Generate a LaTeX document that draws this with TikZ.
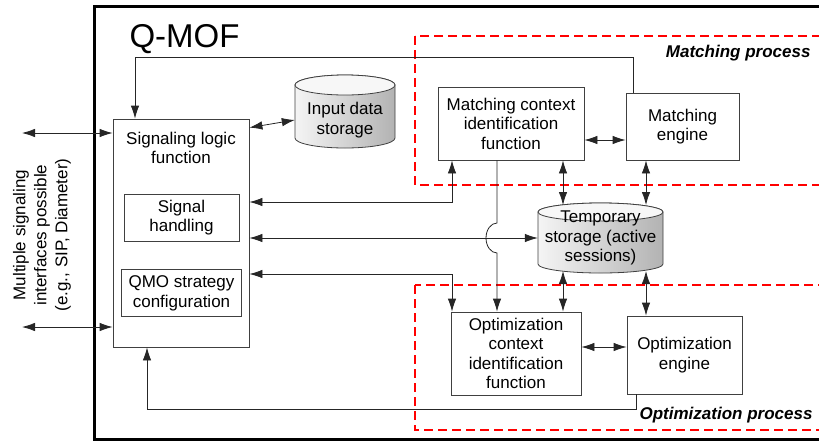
\documentclass[tikz,border=0pt]{standalone}
\usepackage{fontspec}
\setmainfont{Liberation Sans}
\usetikzlibrary{arrows.meta}

\tikzset{
  box/.style={draw=black!75, line width=0.8pt, align=center, inner sep=1pt},
  conn/.style={draw=black!85, line width=0.8pt},
  procarea/.style={draw=red, line width=1.3pt, dash pattern=on 9pt off 5pt},
  proclabel/.style={font=\fontsize{17}{20}\selectfont\bfseries\itshape},
}

% storage drum: x1, x2, y of top centre, y of bottom centre, y radius
\newcommand{\storagecyl}[5]{%
  \shade[left color=gray!8, right color=gray!60, draw=black!75, line width=0.8pt]
    (#1,#3) -- (#1,#4) arc[start angle=180, end angle=0, x radius={(#2-#1)/2}, y radius=#5]
    -- (#2,#3) arc[start angle=360, end angle=180, x radius={(#2-#1)/2}, y radius=#5] -- cycle;
  \filldraw[fill=gray!6, draw=black!75, line width=0.8pt]
    ({(#1+#2)/2},#3) ellipse[x radius={(#2-#1)/2}, y radius=#5];
}

\begin{document}
\begin{tikzpicture}[x=1pt, y=-1pt, >={Latex[length=13pt,width=8.5pt]}, font=\fontsize{17}{19.5}\selectfont]
\useasboundingbox (0,0) rectangle (819,440);
\clip (0,0) rectangle (819,440);

\draw[line width=3pt] (94,6) rectangle (840,439);
\node [anchor=base west, font=\fontsize{33}{36}\selectfont] (qmof) at (126,47) {Q-MOF};

% process areas
\draw[procarea] (415,36) rectangle (840,185);
\draw[procarea] (415,285) rectangle (840,430);
\node [proclabel, anchor=base east] (matchlbl) at (814,57) {Matching process};
\node [proclabel, anchor=base east] (optlbl) at (816,419) {Optimization process};

% signaling side
\node [box, minimum width=136, minimum height=228] (sigfn) at (181,233) {};
\node [anchor=north, align=center, inner sep=0pt] (sigtxt) at ([yshift=-13]sigfn.north) {Signaling logic\\function};
\node [box, minimum width=115, minimum height=47] (sighand) at (181.5,217.5) {Signal\\handling};
\node [box, minimum width=120, minimum height=47, below=28pt, at=(sighand.south)] (qmocfg) {QMO strategy\\configuration};
\node [rotate=90, align=center, font=\fontsize{17}{21}\selectfont] (iface) at (42,235) {Multiple signaling\\interfaces possible\\(e.g., SIP, Diameter)};

% storages
\storagecyl{295}{395}{85}{138}{10}
\storagecyl{538}{663}{212}{264}{9}
\node [align=center, minimum width=100] (inputdb) at (345,120) {Input data\\storage};
\node [align=center, minimum width=125] (tmpdb) at (600.5,238) {Temporary\\storage (active\\sessions)};

% matching and optimization
\node [box, minimum width=146, minimum height=73] (matchctx) at (511,123.5) {Matching context\\identification\\function};
\node [box, minimum width=113, minimum height=67] (matcheng) at (682.5,126.5) {Matching\\engine};
\node [box, minimum width=130, minimum height=83] (optctx) at (516,353.5) {Optimization\\context\\identification\\function};
\node [box, minimum width=115, minimum height=78] (opteng) at (684.5,355) {Optimization\\engine};

\coordinate (topbend) at (135,57);
\coordinate (botbend) at (147,409);
\coordinate (mcbend) at (452,202);
\coordinate (ocbend) at (452,274);
\coordinate (hopx) at (497,238);
\coordinate (colL) at (563,0);
\coordinate (colR) at (646,0);
\coordinate (tmptop) at (0,205);
\coordinate (tmpbot) at (0,271);
\coordinate (mmrow) at (0,140);
\coordinate (oorow) at (0,347);
\coordinate (ext1) at (22,133);
\coordinate (ext2) at (22,327);

\draw [conn,->] ([xshift=-49.5]matcheng.north) |- (topbend) -- (sigfn.north -| topbend);
\draw [conn,<->] ([yshift=-9]sigfn.north east) -- (inputdb.west);
\draw [conn,<->] (sigfn.east |- mcbend) -| (matchctx.south -| mcbend);
\draw [conn,<->] (sigfn.east |- tmpdb.west) -- (tmpdb.west);
\draw [conn,<->] (sigfn.east |- ocbend) -| (optctx.north -| ocbend);
\draw [conn,->] (matchctx.south -| hopx) -- ([yshift=15]hopx) arc[start angle=270, end angle=90, x radius=11, y radius=15] -- (optctx.north -| hopx);
\draw [conn,<->] (matchctx.east |- mmrow) -- (matcheng.west |- mmrow);
\draw [conn,<->] (matchctx.south -| colL) -- (colL |- tmptop);
\draw [conn,<->] (matcheng.south -| colR) -- (colR |- tmptop);
\draw [conn,<->] (colL |- tmpbot) -- (optctx.north -| colL);
\draw [conn,<->] (colR |- tmpbot) -- (opteng.north -| colR);
\draw [conn,<->] (optctx.east |- oorow) -- (opteng.west |- oorow);
\draw [conn,->] ([xshift=-48.5]opteng.south) |- (botbend) -- (sigfn.south -| botbend);
\draw [conn,<->] (ext1) -- (sigfn.west |- ext1);
\draw [conn,<->] (ext2) -- (sigfn.west |- ext2);
\end{tikzpicture}
\end{document}
